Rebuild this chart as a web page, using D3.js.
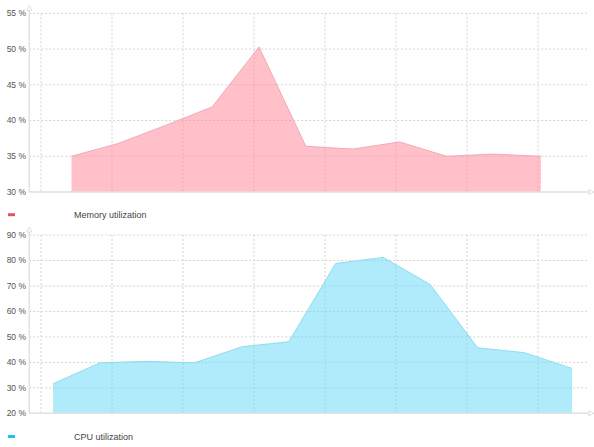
<!DOCTYPE html>
<html>
<head>
<meta charset="utf-8">
<script src="https://cdn.jsdelivr.net/npm/d3@7"></script>
<style>
    html, body { margin: 0; padding: 0; background: #fff; }
    #chart { width: 594px; height: 447px; }
    text { font-family: Arial, "Liberation Sans", sans-serif; }
</style>
</head>
<body>
<div id="chart"></div>
<script>
// sample times, minutes
const memTimes = [14.3, 20.9, 27.5, 34.1, 40.7, 47.3, 53.9, 60.5, 67.1, 73.7, 80.4];
const memValues = [35.0, 36.8, 39.3, 41.9, 50.3, 36.4, 36.0, 37.0, 35.0, 35.3, 35.0];

const cpuTimes = [11.7, 18.3, 25.0, 31.6, 38.3, 44.9, 51.5, 58.2, 64.8, 71.5, 78.1, 84.8];
const cpuValues = [31.6, 39.8, 40.4, 39.8, 46.1, 48.1, 78.8, 81.2, 70.6, 45.7, 43.8, 37.6];

const timeTicks = [10, 20, 30, 40, 50, 60, 70, 80];
const memTicks = [30, 35, 40, 45, 50, 55];
const cpuTicks = [20, 30, 40, 50, 60, 70, 80, 90];

const width = 594, height = 447;

const svg = d3.select('#chart')
    .append('svg')
    .attr('width', width)
    .attr('height', height);

let x = d3.scaleLinear()
    .domain([8.35, 86.9])
    .range([29.3, 587]);

function drawPanel(opts) {
    let y = d3.scaleLinear()
        .domain(opts.domain)
        .range([opts.bottom, opts.top]);

    let g = svg.append('g');

    // grid
    g.selectAll('.hgrid')
        .data(opts.ticks)
        .enter()
        .append('line')
        .attr('x1', 29.3).attr('x2', 587)
        .attr('y1', d => y(d)).attr('y2', d => y(d))
        .attr('stroke', '#d4d4d4')
        .attr('stroke-dasharray', '2,2');

    g.selectAll('.vgrid')
        .data(timeTicks)
        .enter()
        .append('line')
        .attr('x1', d => x(d)).attr('x2', d => x(d))
        .attr('y1', opts.top).attr('y2', opts.bottom)
        .attr('stroke', '#d4d4d4')
        .attr('stroke-dasharray', '2,2');

    let pts = opts.times.map((t, i) => [t, opts.values[i]]);

    let area = d3.area()
        .x(d => x(d[0]))
        .y0(y(opts.domain[0]))
        .y1(d => y(d[1]));

    let line = d3.line()
        .x(d => x(d[0]))
        .y(d => y(d[1]));

    g.append('path')
        .attr('d', area(pts))
        .attr('fill', opts.fill)
        .attr('fill-opacity', 0.5);

    g.append('path')
        .attr('d', line(pts))
        .attr('fill', 'none')
        .attr('stroke', opts.stroke)
        .attr('stroke-width', 1);

    // axes lines with arrows
    g.append('line')
        .attr('x1', 29.3).attr('x2', 29.3)
        .attr('y1', opts.top - 5).attr('y2', opts.bottom)
        .attr('stroke', '#e2e2e2').attr('stroke-width', 1.5);
    g.append('path')
        .attr('d', `M${29.3 - 2.5},${opts.top - 3} L29.3,${opts.top - 8} L${29.3 + 2.5},${opts.top - 3} Z`)
        .attr('fill', '#fff').attr('stroke', '#d8d8d8').attr('stroke-width', 0.8);

    g.append('line')
        .attr('x1', 29.3).attr('x2', 590)
        .attr('y1', opts.bottom).attr('y2', opts.bottom)
        .attr('stroke', '#e2e2e2').attr('stroke-width', 1.5);
    g.append('path')
        .attr('d', `M589,${opts.bottom - 2.5} L594,${opts.bottom} L589,${opts.bottom + 2.5} Z`)
        .attr('fill', '#fff').attr('stroke', '#d8d8d8').attr('stroke-width', 0.8);

    // y labels
    g.selectAll('.ylab')
        .data(opts.ticks)
        .enter()
        .append('text')
        .attr('x', 26)
        .attr('y', d => y(d))
        .attr('dy', '0.35em')
        .attr('text-anchor', 'end')
        .attr('font-size', 8.5)
        .attr('fill', '#555')
        .text(d => d + ' %');

    // legend
    g.append('rect')
        .attr('x', 8).attr('y', opts.legendY - 1.5)
        .attr('width', 7).attr('height', 3)
        .attr('fill', opts.swatch);
    g.append('text')
        .attr('x', 74).attr('y', opts.legendY)
        .attr('dy', '0.35em')
        .attr('font-size', 9)
        .attr('fill', '#444')
        .text(opts.label);
}

drawPanel({
    times: memTimes, values: memValues, ticks: memTicks,
    domain: [30, 55], top: 13.3, bottom: 192,
    fill: '#ff8296', stroke: '#f5a9b8', swatch: '#e8506a',
    legendY: 214.7, label: 'Memory utilization'
});

drawPanel({
    times: cpuTimes, values: cpuValues, ticks: cpuTicks,
    domain: [20, 90], top: 235, bottom: 413.3,
    fill: '#5fd7f5', stroke: '#8edcf2', swatch: '#1ec0f0',
    legendY: 436.5, label: 'CPU utilization'
});
</script>
</body>
</html>
